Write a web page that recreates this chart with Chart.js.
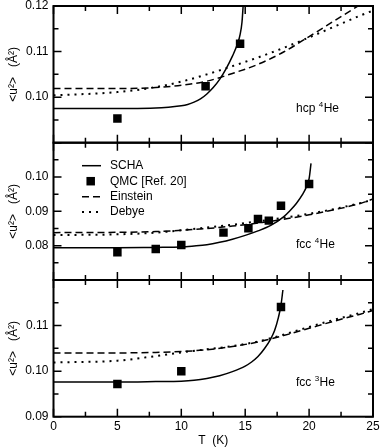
<!DOCTYPE html>
<html>
<head>
<meta charset="utf-8">
<script src="https://cdn.jsdelivr.net/npm/chart.js@4.4.0/dist/chart.umd.min.js"></script>
<style>
  html, body { margin: 0; padding: 0; background: #fff; }
  #wrap { position: relative; width: 382px; height: 448px; }
  canvas { position: absolute; left: 0; top: 0; }
</style>
</head>
<body>
<div id="wrap">
  <canvas id="hcp4" width="382" height="448"></canvas>
  <canvas id="fcc4" width="382" height="448"></canvas>
  <canvas id="fcc3" width="382" height="448"></canvas>
</div>
<script>
// Mean square displacement of solid helium: SCHA vs QMC, Einstein and Debye models
const INK = '#000000';
const FONT = '"Liberation Sans", Arial, Helvetica, sans-serif';

// temperature grid (K) of the Einstein / Debye curves
const MODEL_T = [0, 5, 8, 10, 12, 14, 16, 18, 20, 22, 24, 25];
const X_TICKS = [0, 5, 10, 15, 20, 25];

// hcp 4He
const hcp4SchaT = [0, 4, 6, 8, 9, 10, 10.5, 11, 11.5, 12, 12.5, 13, 13.5, 14, 14.4, 14.6, 14.75, 14.85];
const hcp4SchaU = [0.0975, 0.0975, 0.0975, 0.0976, 0.0978, 0.0981, 0.0984, 0.0989, 0.0996, 0.1007, 0.1021, 0.1039, 0.1062, 0.1090, 0.1117, 0.1137, 0.1165, 0.1205];
const hcp4QmcT = [5, 11.9, 14.6];
const hcp4QmcU = [0.0953, 0.1024, 0.1117];
const hcp4Einstein = [0.1019, 0.1019, 0.1021, 0.1026, 0.1035, 0.1052, 0.1072, 0.1099, 0.1133, 0.1168, 0.1203, 0.1221];
const hcp4Debye = [0.1004, 0.1011, 0.1022, 0.1034, 0.1050, 0.1068, 0.1087, 0.1108, 0.1131, 0.1155, 0.1179, 0.1190];
const hcp4YLabels = [0.10, 0.11, 0.12];

// fcc 4He
const fcc4SchaT = [0, 5, 8, 10, 11, 12, 13, 14, 15, 16, 17, 18, 18.5, 19, 19.5, 19.8, 20, 20.15];
const fcc4SchaU = [0.0794, 0.0794, 0.0795, 0.0796, 0.0799, 0.0803, 0.0810, 0.0819, 0.0830, 0.0843, 0.0859, 0.0884, 0.0902, 0.0923, 0.0950, 0.0972, 0.0995, 0.1040];
const fcc4QmcT = [5, 8, 10, 13.3, 15.25, 16, 16.85, 17.8, 20];
const fcc4QmcU = [0.0781, 0.0790, 0.0802, 0.0838, 0.0851, 0.0878, 0.0873, 0.0916, 0.0980];
const fcc4Einstein = [0.0838, 0.0839, 0.0841, 0.0845, 0.0850, 0.0857, 0.0866, 0.0877, 0.0890, 0.0905, 0.0923, 0.0936];
const fcc4Debye = [0.0831, 0.0833, 0.0838, 0.0845, 0.0853, 0.0861, 0.0871, 0.0881, 0.0893, 0.0907, 0.0924, 0.0934];
const fcc4YLabels = [0.08, 0.09, 0.10];

// fcc 3He
const fcc3SchaT = [0, 5, 8, 10, 11, 12, 13, 14, 15, 15.5, 16, 16.5, 17, 17.3, 17.6, 17.8, 17.95];
const fcc3SchaU = [0.0976, 0.0976, 0.0977, 0.0978, 0.0980, 0.0984, 0.0990, 0.0999, 0.1011, 0.1020, 0.1032, 0.1049, 0.1071, 0.1089, 0.1118, 0.1145, 0.1178];
const fcc3QmcT = [5, 10, 17.8];
const fcc3QmcU = [0.0972, 0.1000, 0.1141];
const fcc3Einstein = [0.1040, 0.1040, 0.1041, 0.1043, 0.1047, 0.1054, 0.1064, 0.1078, 0.1094, 0.1110, 0.1125, 0.1133];
const fcc3Debye = [0.1019, 0.1023, 0.1033, 0.1041, 0.1048, 0.1055, 0.1065, 0.1080, 0.1097, 0.1113, 0.1128, 0.1136];
const fcc3YLabels = [0.09, 0.10, 0.11];

Chart.defaults.font.family = FONT;
Chart.defaults.font.size = 12;
Chart.defaults.color = INK;

const PLOT_LEFT = 53.5;
const PLOT_RIGHT = 373;
const X_AXIS_H = 31.3;

const pts = (xs, ys) => xs.map((x, i) => ({ x: x, y: ys[i] }));

// frame with inward ticks on all four sides
const framePlugin = {
  id: 'frame',
  afterDraw(chart) {
    const { ctx, chartArea: a, scales: { x, y } } = chart;
    ctx.save();
    ctx.strokeStyle = INK;
    ctx.lineWidth = 1.5;
    ctx.beginPath();
    for (let t = 0; t <= 25; t += 2.5) {
      const px = x.getPixelForValue(t);
      const len = t % 5 === 0 ? 8 : 5;
      ctx.moveTo(px, a.top); ctx.lineTo(px, a.top + len);
      ctx.moveTo(px, a.bottom); ctx.lineTo(px, a.bottom - len);
    }
    const lo = Math.round(y.min * 1000), hi = Math.round(y.max * 1000);
    for (let i = lo; i <= hi; i += 5) {
      const py = y.getPixelForValue(i / 1000);
      const len = i % 10 === 0 ? 8 : 5;
      ctx.moveTo(a.left, py); ctx.lineTo(a.left + len, py);
      ctx.moveTo(a.right, py); ctx.lineTo(a.right - len, py);
    }
    ctx.stroke();
    ctx.lineWidth = 2;
    ctx.strokeRect(a.left, a.top, a.right - a.left, a.bottom - a.top);
    ctx.restore();
  }
};

// "hcp 4He" style label with a superscript mass number
const tagPlugin = {
  id: 'tag',
  afterDraw(chart, args, opts) {
    const { ctx, chartArea: a } = chart;
    let x = 296;
    const base = a.top + 105.6;
    ctx.save();
    ctx.fillStyle = INK;
    ctx.textBaseline = 'alphabetic';
    ctx.font = '12px ' + FONT;
    ctx.fillText(opts.parts[0], x, base);
    x += ctx.measureText(opts.parts[0]).width;
    ctx.font = '8px ' + FONT;
    ctx.fillText(opts.parts[1], x, base - 5);
    x += ctx.measureText(opts.parts[1]).width + 0.5;
    ctx.font = '12px ' + FONT;
    ctx.fillText(opts.parts[2], x, base);
    ctx.restore();
  }
};

// legend in the upper left corner of the middle panel
const keyPlugin = {
  id: 'key',
  afterDraw(chart, args, opts) {
    if (!opts.show) return;
    const ctx = chart.ctx;
    const rows = [165.7, 181.2, 196.7, 211.9];
    ctx.save();
    chart.data.datasets.forEach((ds, i) => {
      const y = rows[i];
      ctx.strokeStyle = INK;
      ctx.fillStyle = INK;
      if (ds.showLine) {
        ctx.lineWidth = ds.borderWidth;
        ctx.setLineDash(ds.borderDash || []);
        ctx.beginPath();
        ctx.moveTo(82, y); ctx.lineTo(101, y);
        ctx.stroke();
        ctx.setLineDash([]);
      } else {
        ctx.fillRect(90.7 - 4.25, y - 4.25, 8.5, 8.5);
      }
      ctx.font = '12px ' + FONT;
      ctx.textBaseline = 'middle';
      ctx.fillText(ds.label, 110, y);
    });
    ctx.restore();
  }
};

function buildPanel(p) {
  return new Chart(document.getElementById(p.id), {
    type: 'scatter',
    data: {
      datasets: [
        { label: 'SCHA', data: pts(p.schaT, p.schaU), showLine: true, borderColor: INK,
          borderWidth: 1.5, pointRadius: 0, cubicInterpolationMode: 'monotone' },
        { label: 'QMC [Ref. 20]', data: pts(p.qmcT, p.qmcU), pointStyle: 'rect', pointRadius: 6,
          backgroundColor: INK, borderColor: INK, borderWidth: 0 },
        { label: 'Einstein', data: pts(MODEL_T, p.einstein), showLine: true, borderColor: INK,
          borderWidth: 1.5, borderDash: [7, 4], pointRadius: 0, cubicInterpolationMode: 'monotone' },
        { label: 'Debye', data: pts(MODEL_T, p.debye), showLine: true, borderColor: INK,
          borderWidth: 2, borderDash: [2, 5], pointRadius: 0, cubicInterpolationMode: 'monotone' },
      ],
    },
    options: {
      responsive: false,
      animation: false,
      devicePixelRatio: 1,
      events: [],
      layout: { padding: { left: 0, right: 382 - PLOT_RIGHT, top: p.top, bottom: p.bottomAxis ? 0 : 448 - p.bottom } },
      plugins: {
        legend: { display: false },
        tooltip: { enabled: false },
        tag: { parts: p.tag },
        key: { show: !!p.legend },
      },
      scales: {
        x: {
          type: 'linear', min: 0, max: 25,
          grid: { display: false, drawTicks: false }, border: { display: false },
          afterBuildTicks: (s) => { s.ticks = X_TICKS.map((v) => ({ value: v })); },
          ticks: { display: !!p.bottomAxis, padding: 3, maxRotation: 0, autoSkip: false, color: INK },
          title: { display: !!p.bottomAxis, text: 'T  (K)', color: INK, font: { size: 12 }, padding: { top: 0, bottom: 0 } },
          afterFit: (s) => { s.height = p.bottomAxis ? X_AXIS_H : 0; s.paddingLeft = 0; s.paddingRight = 0; },
        },
        y: {
          type: 'linear', min: p.min, max: p.max,
          grid: { display: false, drawTicks: false }, border: { display: false },
          afterBuildTicks: (s) => { s.ticks = p.yLabels.map((v) => ({ value: v })); },
          ticks: { padding: 5, autoSkip: false, color: INK, callback: (v) => v.toFixed(2) },
          title: { display: true, text: '<u²>   (Å²)', color: INK, font: { size: 12 }, padding: { top: 6, bottom: 0 } },
          afterFit: (s) => { s.width = PLOT_LEFT; s.paddingTop = 0; s.paddingBottom = 0; },
        },
      },
    },
    plugins: [framePlugin, tagPlugin, keyPlugin],
  });
}

buildPanel({ id: 'hcp4', top: 5.5, bottom: 142.7, min: 0.09, max: 0.12, yLabels: hcp4YLabels,
  schaT: hcp4SchaT, schaU: hcp4SchaU, qmcT: hcp4QmcT, qmcU: hcp4QmcU,
  einstein: hcp4Einstein, debye: hcp4Debye, tag: ['hcp ', '4', 'He'] });
buildPanel({ id: 'fcc4', top: 142.7, bottom: 280, min: 0.07, max: 0.11, yLabels: fcc4YLabels,
  schaT: fcc4SchaT, schaU: fcc4SchaU, qmcT: fcc4QmcT, qmcU: fcc4QmcU,
  einstein: fcc4Einstein, debye: fcc4Debye, tag: ['fcc ', '4', 'He'], legend: true });
buildPanel({ id: 'fcc3', top: 280, bottom: 416.7, min: 0.09, max: 0.12, yLabels: fcc3YLabels,
  schaT: fcc3SchaT, schaU: fcc3SchaU, qmcT: fcc3QmcT, qmcU: fcc3QmcU,
  einstein: fcc3Einstein, debye: fcc3Debye, tag: ['fcc ', '3', 'He'], bottomAxis: true });
</script>
</body>
</html>
